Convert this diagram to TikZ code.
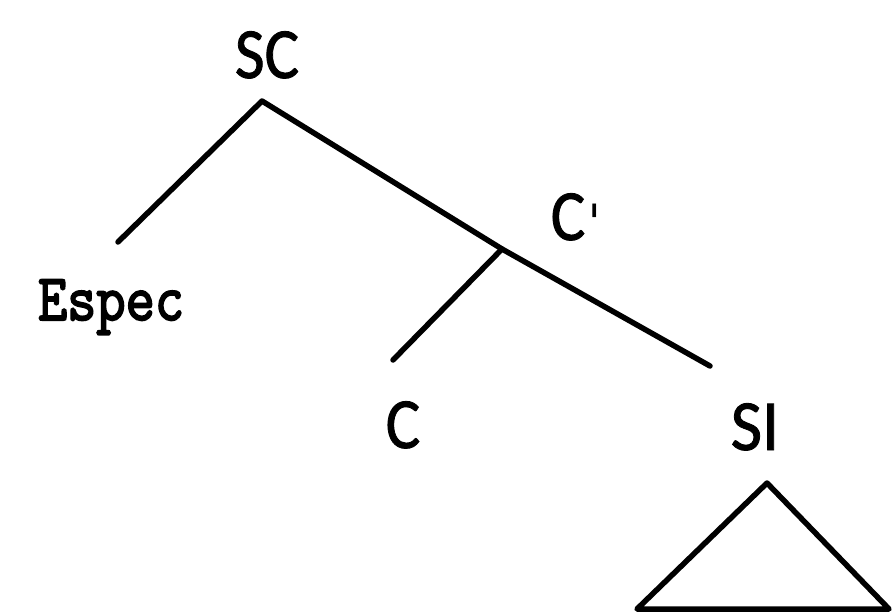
\documentclass[tikz,border=0pt]{standalone}
\usepackage{fontspec}
\setmainfont{Carlito}[FakeBold=1.2]
\newfontfamily\especfont{Latin Modern Mono}[FakeBold=3]
\newfontfamily\primefont{DejaVu Sans}
\begin{document}
\begin{tikzpicture}[x=1pt,y=-1pt,
  lab/.style={anchor=base,inner sep=0pt,font=\fontsize{72}{80}\selectfont},
  spec/.style={anchor=base,inner sep=0pt,font=\especfont\fontsize{66}{76}\selectfont},
  edge/.style={line width=5.5pt,line cap=round,line join=round}]
\useasboundingbox (0,0) rectangle (893,611);
\node[lab] (sc) at (267,78) {\scalebox{0.9}[1]{SC}};
\node[lab] (cbar) at (576,240) {\scalebox{0.9}[1]{C\hspace{4pt}{\primefont\fontsize{50}{60}\selectfont\char"0027}}};
\node[lab] (c) at (403,448) {\scalebox{0.9}[1]{C}};
\node[lab] (si) at (755,450) {\scalebox{0.95}[1]{SI}};
\node[spec] (espec) at (111,320) {\scalebox{0.86}[1]{Espec}};
\coordinate (sctop) at (262,101);
\coordinate (specend) at (118,242);
\coordinate (cbarj) at (502,249);
\coordinate (cend) at (393,360);
\coordinate (siend) at (710,366);
\coordinate (tapex) at (767,483);
\coordinate (tl) at (637,609);
\coordinate (tr) at (889,609);
\draw[edge] (specend) -- (sctop) -- (cbarj) -- (siend);
\draw[edge] (cbarj) -- (cend);
\draw[edge] (tl) -- (tapex) -- (tr) -- cycle;
\end{tikzpicture}
\end{document}
